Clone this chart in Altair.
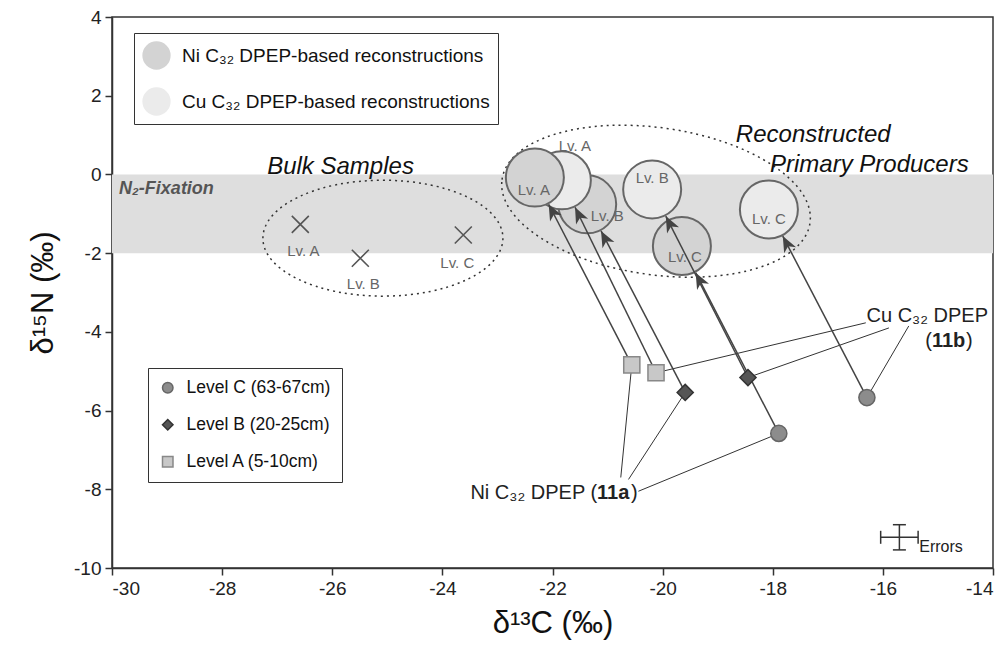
import math
import altair as alt
import pandas as pd

# ---------------- data ----------------
x_domain = [-30, -14]
y_domain = [-10, 4]
x_ticks = [-30, -28, -26, -24, -22, -20, -18, -16, -14]
y_ticks = [-10, -8, -6, -4, -2, 0, 2, 4]

bulk_labels = ["Lv. A", "Lv. B", "Lv. C"]
bulk_x = [-26.58, -25.49, -23.62]
bulk_y = [-1.27, -2.13, -1.54]

level_names = ["Level A (5-10cm)", "Level B (20-25cm)", "Level C (63-67cm)"]
ni_meas_x = [-20.56, -19.59, -17.89]
ni_meas_y = [-4.84, -5.54, -6.58]
cu_meas_x = [-20.12, -18.45, -16.29]
cu_meas_y = [-5.04, -5.16, -5.67]

rec_labels = ["Lv. A", "Lv. B", "Lv. C"]
ni_rec_x = [-22.32, -21.37, -19.65]
ni_rec_y = [-0.08, -0.76, -1.82]
cu_rec_x = [-21.83, -20.19, -18.07]
cu_rec_y = [-0.15, -0.38, -0.89]

n2_band = [0, -2]

err_center_x = [-15.70]
err_center_y = [-9.22]
err_half_x = [0.34]
err_half_y = [0.32]

ni_series = "Ni C₃₂ DPEP-based reconstructions"
cu_series = "Cu C₃₂ DPEP-based reconstructions"

# annotation anchors (data units)
ni_leader_x = [-20.76, -20.62, -20.44]
ni_leader_y = [-7.70, -7.75, -8.05]
cu_leader_x = [-16.31, -15.89, -15.53]
cu_leader_y = [-3.77, -3.90, -3.85]

# ---------------- layout / style ----------------
W, H = 881, 551
PPX = W / (x_domain[1] - x_domain[0])
PPY = H / (y_domain[1] - y_domain[0])
CIRCLE_D = 58
R_TIP = CIRCLE_D / 2 + 1
FONT = "Liberation Sans"

ni_lab_off = [(-1, 12), (20, 12), (3, 11)]
cu_lab_off = [(13, -34), (0, -11), (0, 10)]
bulk_lab_off = [(3, 27), (3, 26), (-6, 28)]

xs = alt.Scale(domain=x_domain, nice=False, zero=False)
ys = alt.Scale(domain=y_domain, nice=False, zero=False)
MINUS_FIX = "replace(datum.label, '\u2212', '-')"
x_axis = alt.Axis(values=x_ticks, title="δ¹³C (‰)", titlePadding=10, grid=False,
                  labelExpr=MINUS_FIX)
y_axis = alt.Axis(values=y_ticks, title="δ¹⁵N (‰)", titlePadding=14, grid=False,
                  labelExpr=MINUS_FIX)


def X(f):
    return alt.X(f, type="quantitative", scale=xs, axis=x_axis)


def Y(f):
    return alt.Y(f, type="quantitative", scale=ys, axis=y_axis)


def px2x(dx):
    return dx / PPX


def px2y(dy):
    return -dy / PPY


# ---------------- tables ----------------
band_df = pd.DataFrame({"y": [n2_band[0]], "y2": [n2_band[1]]})

bulk_df = pd.DataFrame({
    "x": bulk_x, "y": bulk_y, "label": bulk_labels,
    "lx": [bulk_x[i] + px2x(bulk_lab_off[i][0]) for i in range(3)],
    "ly": [bulk_y[i] + px2y(bulk_lab_off[i][1]) for i in range(3)],
})

rec_rows = []
z_ni = [2, 0, 2]
for i in range(3):
    rec_rows.append(dict(series=ni_series, x=ni_rec_x[i], y=ni_rec_y[i], label=rec_labels[i],
                         lx=ni_rec_x[i] + px2x(ni_lab_off[i][0]), ly=ni_rec_y[i] + px2y(ni_lab_off[i][1]),
                         z=z_ni[i]))
    rec_rows.append(dict(series=cu_series, x=cu_rec_x[i], y=cu_rec_y[i], label=rec_labels[i],
                         lx=cu_rec_x[i] + px2x(cu_lab_off[i][0]), ly=cu_rec_y[i] + px2y(cu_lab_off[i][1]),
                         z=1))
rec_df = pd.DataFrame(rec_rows).sort_values("z", kind="stable").reset_index(drop=True)

meas_rows = []
for i in range(3):
    meas_rows.append(dict(level=level_names[i], metal="Ni", x=ni_meas_x[i], y=ni_meas_y[i]))
    meas_rows.append(dict(level=level_names[i], metal="Cu", x=cu_meas_x[i], y=cu_meas_y[i]))
meas_df = pd.DataFrame(meas_rows)

arrow_rows = []
pairs = [(ni_meas_x, ni_meas_y, ni_rec_x, ni_rec_y), (cu_meas_x, cu_meas_y, cu_rec_x, cu_rec_y)]
for mxs, mys, rxs, rys in pairs:
    for i in range(3):
        mx, my, rx, ry = mxs[i], mys[i], rxs[i], rys[i]
        vx = (rx - mx) * PPX
        vy = -(ry - my) * PPY
        L = math.hypot(vx, vy)
        ux, uy = vx / L, vy / L
        tx = rx - ux * R_TIP / PPX
        ty = ry + uy * R_TIP / PPY
        ang = math.degrees(math.atan2(ux, -uy)) % 360
        arrow_rows.append(dict(mx=mx, my=my, tx=tx, ty=ty, angle=ang))
arrow_df = pd.DataFrame(arrow_rows)

leader_df = pd.DataFrame({
    "x": ni_leader_x + cu_leader_x,
    "y": ni_leader_y + cu_leader_y,
    "x2": ni_meas_x + cu_meas_x,
    "y2": ni_meas_y + cu_meas_y,
})

err_df = pd.DataFrame({
    "cx": err_center_x, "cy": err_center_y,
    "xlo": [err_center_x[0] - err_half_x[0]], "xhi": [err_center_x[0] + err_half_x[0]],
    "ylo": [err_center_y[0] - err_half_y[0]], "yhi": [err_center_y[0] + err_half_y[0]],
})


def ellipse_path(b):
    k = 0.5523
    return (f"M-1,0 C-1,{-k*b:.4f} {-k:.4f},{-b:.4f} 0,{-b:.4f} "
            f"C{k:.4f},{-b:.4f} 1,{-k*b:.4f} 1,0 "
            f"C1,{k*b:.4f} {k:.4f},{b:.4f} 0,{b:.4f} "
            f"C{-k:.4f},{b:.4f} -1,{k*b:.4f} -1,0 Z")


ARROW = "M0,0 L0.42,1 L0,0.72 L-0.42,1 Z"
XMARK = "M-1,-1 L1,1 M-1,1 L1,-1"

# ---------------- layers ----------------
band = alt.Chart(band_df).mark_rect(color="#dedede").encode(
    x=alt.value(0), x2=alt.value(W), y=Y("y"), y2="y2:Q")

n2_text = alt.Chart(pd.DataFrame({"y": [-0.38], "t": ["N₂-Fixation"]})).mark_text(
    align="left", baseline="middle", font=FONT, fontSize=18, fontStyle="italic",
    fontWeight="bold", color="#555").encode(x=alt.value(7), y=Y("y"), text="t:N")

bulk_ell = alt.Chart(pd.DataFrame({"x": [-25.08], "y": [-1.62]})).mark_point(
    shape=ellipse_path(0.483), filled=False, stroke="#333", strokeWidth=1.5,
    strokeDash=[2, 4], size=240 ** 2, opacity=1).encode(x=X("x"), y=Y("y"))

rec_ell = alt.Chart(pd.DataFrame({"x": [-20.12], "y": [-0.68]})).mark_point(
    shape=ellipse_path(0.473), filled=False, stroke="#333", strokeWidth=1.5,
    strokeDash=[2, 4], size=311 ** 2, angle=8, opacity=1).encode(x=X("x"), y=Y("y"))

bulk_pts = alt.Chart(bulk_df).mark_point(shape=XMARK, filled=False, stroke="#555",
                                         strokeWidth=1.6, size=289, opacity=1).encode(
    x=X("x"), y=Y("y"))
bulk_txt = alt.Chart(bulk_df).mark_text(font=FONT, fontSize=15, color="#666").encode(
    x=X("lx"), y=Y("ly"), text="label:N")

leaders = alt.Chart(leader_df).mark_rule(color="#333", strokeWidth=1).encode(
    x=X("x"), y=Y("y"), x2="x2:Q", y2="y2:Q")

legend_rec = alt.Legend(title=None, orient="none", legendX=22, legendY=16,
                        symbolType="circle", symbolSize=800, symbolStrokeWidth=0,
                        labelFont=FONT, labelFontSize=19, labelColor="#111",
                        labelLimit=500, labelOffset=11, rowPadding=17, padding=8,
                        strokeColor="#333", fillColor="white")

rec_circles = alt.Chart(rec_df).mark_point(shape="circle", filled=True, opacity=1,
                                           size=CIRCLE_D ** 2, stroke="#666",
                                           strokeWidth=2).encode(
    x=X("x"), y=Y("y"),
    fill=alt.Fill("series:N", scale=alt.Scale(domain=[ni_series, cu_series],
                                              range=["#d3d3d3", "#ebebeb"]),
                  legend=legend_rec))

arrow_lines = alt.Chart(arrow_df).mark_rule(color="#444", strokeWidth=1.5).encode(
    x=X("mx"), y=Y("my"), x2="tx:Q", y2="ty:Q")

arrow_heads = alt.Chart(arrow_df).mark_point(shape=ARROW, filled=True, fill="#444",
                                             strokeWidth=0, size=1024, opacity=1).encode(
    x=X("tx"), y=Y("ty"), angle=alt.Angle("angle:Q", scale=None))

rec_txt = alt.Chart(rec_df).mark_text(font=FONT, fontSize=15, color="#666").encode(
    x=X("lx"), y=Y("ly"), text="label:N")

lvl_domain = [level_names[2], level_names[1], level_names[0]]
legend_lvl = alt.Legend(title=None, orient="none", legendX=36, legendY=351,
                        symbolSize=110, symbolStrokeWidth=1.5,
                        labelFont=FONT, labelFontSize=17.5, labelColor="#111",
                        labelOffset=10, rowPadding=18, padding=11, labelLimit=400,
                        strokeColor="#333", fillColor="white")

meas_pts = alt.Chart(meas_df).mark_point(filled=True, opacity=1, size=260,
                                         strokeWidth=1.5).encode(
    x=X("x"), y=Y("y"),
    fill=alt.Fill("level:N", scale=alt.Scale(domain=lvl_domain,
                                             range=["#8c8c8c", "#555555", "#c8c8c8"]),
                  legend=legend_lvl),
    stroke=alt.Stroke("level:N", scale=alt.Scale(domain=lvl_domain,
                                                 range=["#666666", "#333333", "#888888"]),
                      legend=legend_lvl),
    shape=alt.Shape("level:N", scale=alt.Scale(domain=lvl_domain,
                                               range=["circle", "diamond", "square"]),
                    legend=legend_lvl))

# annotation labels
ni_ax, ni_ay = -21.19, -8.10
cu_ax, cu_ay = -14.09, -3.59
cu2_ax, cu2_ay = -15.11, -4.23


def txt(df_x, df_y, t, **kw):
    base = dict(font=FONT, fontSize=20, color="#222", baseline="middle")
    base.update(kw)
    return alt.Chart(pd.DataFrame({"x": [df_x], "y": [df_y], "t": [t]})).mark_text(
        **base).encode(x=X("x"), y=Y("y"), text="t:N")


ni_lbl = alt.layer(
    txt(ni_ax, ni_ay, "Ni C₃₂ DPEP (", align="right"),
    txt(ni_ax, ni_ay, "11a", align="left", fontWeight="bold"),
    txt(ni_ax, ni_ay, ")", align="left", dx=34),
)
cu_lbl = alt.layer(
    txt(cu_ax, cu_ay, "Cu C₃₂ DPEP", align="right"),
    txt(cu2_ax, cu2_ay, "(", align="right"),
    txt(cu2_ax, cu2_ay, "11b", align="left", fontWeight="bold"),
    txt(cu2_ax, cu2_ay, ")", align="left", dx=34),
)

group_lbl = alt.layer(
    txt(-25.85, 0.18, "Bulk Samples", align="center", fontSize=24, fontStyle="italic", color="#111"),
    txt(-18.67, 0.99, "Reconstructed", align="left", fontSize=24, fontStyle="italic", color="#111"),
    txt(-18.05, 0.23, "Primary Producers", align="left", fontSize=24, fontStyle="italic", color="#111"),
)

err_h = alt.Chart(err_df).mark_rule(color="#333", strokeWidth=1.5).encode(
    x=X("xlo"), x2="xhi:Q", y=Y("cy"))
err_v = alt.Chart(err_df).mark_rule(color="#333", strokeWidth=1.5).encode(
    x=X("cx"), y=Y("ylo"), y2="yhi:Q")
err_cap_l = alt.Chart(err_df).mark_tick(orient="vertical", size=13, thickness=1.5,
                                        color="#333", opacity=1).encode(x=X("xlo"), y=Y("cy"))
err_cap_r = alt.Chart(err_df).mark_tick(orient="vertical", size=13, thickness=1.5,
                                        color="#333", opacity=1).encode(x=X("xhi"), y=Y("cy"))
err_cap_b = alt.Chart(err_df).mark_tick(orient="horizontal", size=13, thickness=1.5,
                                        color="#333", opacity=1).encode(x=X("cx"), y=Y("ylo"))
err_cap_t = alt.Chart(err_df).mark_tick(orient="horizontal", size=13, thickness=1.5,
                                        color="#333", opacity=1).encode(x=X("cx"), y=Y("yhi"))
err_txt = txt(-15.34, -9.47, "Errors", align="left", fontSize=16)

chart = alt.layer(
    band, n2_text, bulk_ell, rec_ell, bulk_pts, bulk_txt, leaders,
    rec_circles, arrow_lines, arrow_heads, rec_txt, meas_pts,
    ni_lbl, cu_lbl, group_lbl,
    err_h, err_v, err_cap_l, err_cap_r, err_cap_b, err_cap_t, err_txt,
).resolve_scale(fill="independent", stroke="independent", shape="independent").properties(
    width=W, height=H,
    autosize=alt.AutoSizeParams(type="none"),
    padding={"left": 104, "top": 9, "right": 3, "bottom": 87},
).configure_view(stroke="#333", strokeWidth=1.5).configure_axis(
    labelFont=FONT, labelFontSize=19, labelColor="#222",
    titleFont="Liberation Sans Narrow, Liberation Sans", titleFontSize=31,
    titleFontWeight="normal", titleColor="#111",
    tickColor="#333", tickWidth=1.5, tickSize=7, labelPadding=4,
    domainColor="#333", domainWidth=1.5, grid=False,
)

chart.save("out.html", embed_options={"renderer": "svg", "actions": False})
